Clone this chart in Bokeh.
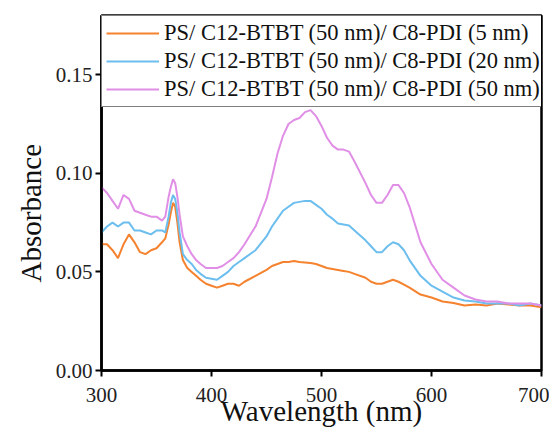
from bokeh.plotting import figure
from bokeh.models import Range1d, FixedTicker, PrintfTickFormatter, Title
from bokeh.embed import file_html
from bokeh.resources import INLINE

wavelength = [300, 305, 310, 315, 320, 325, 330, 335, 340, 345, 350, 355,
              358, 361, 363, 365, 367, 369, 371, 374, 378, 382, 386, 390, 395,
              400, 405, 410, 415, 420, 425, 430,
              440, 450, 455, 460, 465, 470, 475, 480, 485, 490, 495, 500, 505, 510, 515, 520, 525, 530,
              540, 545, 550, 555, 560, 565, 570, 575, 580,
              590, 600, 610, 620, 630, 640, 650, 660, 670, 680, 690, 700]

abs_5nm = [0.064, 0.064, 0.061, 0.057, 0.064, 0.069, 0.065, 0.060, 0.059, 0.061, 0.062, 0.065,
           0.067, 0.074, 0.080, 0.085, 0.083, 0.075, 0.065, 0.056, 0.052, 0.050, 0.048, 0.046, 0.044,
           0.043, 0.042, 0.043, 0.044, 0.044, 0.043, 0.045,
           0.048, 0.051, 0.053, 0.054, 0.055, 0.055, 0.0555, 0.055, 0.0548, 0.0545, 0.054, 0.053, 0.052, 0.0515, 0.051, 0.0505, 0.050, 0.049,
           0.047, 0.045, 0.044, 0.044, 0.045, 0.046, 0.045, 0.0435, 0.042,
           0.0385, 0.037, 0.035, 0.0342, 0.033, 0.0335, 0.033, 0.034, 0.0335, 0.033, 0.033, 0.032]

abs_20nm = [0.070, 0.073, 0.075, 0.073, 0.075, 0.075, 0.071, 0.071, 0.070, 0.069, 0.071, 0.071,
            0.070, 0.078, 0.085, 0.089, 0.087, 0.080, 0.070, 0.059, 0.056, 0.054, 0.051, 0.049, 0.047,
            0.0465, 0.046, 0.048, 0.050, 0.053, 0.055, 0.057,
            0.061, 0.068, 0.073, 0.077, 0.081, 0.083, 0.085, 0.0855, 0.086, 0.086, 0.084, 0.082, 0.079, 0.077, 0.0745, 0.074, 0.0735, 0.071,
            0.066, 0.063, 0.060, 0.060, 0.063, 0.065, 0.064, 0.061, 0.056,
            0.048, 0.043, 0.040, 0.037, 0.0355, 0.035, 0.034, 0.034, 0.034, 0.033, 0.034, 0.033]

abs_50nm = [0.093, 0.090, 0.086, 0.082, 0.089, 0.087, 0.081, 0.080, 0.079, 0.078, 0.078, 0.076,
            0.078, 0.088, 0.093, 0.097, 0.095, 0.088, 0.079, 0.068, 0.063, 0.059, 0.056, 0.054, 0.052,
            0.052, 0.052, 0.053, 0.055, 0.057, 0.060, 0.064,
            0.073, 0.087, 0.098, 0.110, 0.119, 0.125, 0.127, 0.128, 0.131, 0.132, 0.129, 0.124, 0.118, 0.114, 0.112, 0.112, 0.111, 0.106,
            0.095, 0.089, 0.085, 0.085, 0.089, 0.094, 0.094, 0.090, 0.083,
            0.065, 0.054, 0.046, 0.042, 0.038, 0.036, 0.035, 0.035, 0.034, 0.034, 0.034, 0.033]

series_labels = ["PS/ C12-BTBT (50 nm)/ C8-PDI (5 nm)",
                 "PS/ C12-BTBT (50 nm)/ C8-PDI (20 nm)",
                 "PS/ C12-BTBT (50 nm)/ C8-PDI (50 nm)"]
series_colors = ["#F5822E", "#6CBEEE", "#E08EE6"]

x_ticks = [300, 400, 500, 600, 700]
y_ticks = [0.0, 0.05, 0.10, 0.15]

FONT = "Liberation Serif"

p = figure(width=549, height=434, output_backend="svg", toolbar_location=None,
           x_range=Range1d(300, 700), y_range=Range1d(0, 0.18),
           min_border_left=101, min_border_right=8, min_border_top=15, min_border_bottom=64)

for ys, lab, col in zip([abs_5nm, abs_20nm, abs_50nm], series_labels, series_colors):
    p.line(wavelength, ys, line_color=col, line_width=2, legend_label=lab)

p.grid.visible = False
p.outline_line_color = "black"
p.outline_line_width = 2.5
p.outline_line_alpha = 1.0
p.background_fill_color = "white"
p.border_fill_color = "white"

for ax in (p.xaxis[0], p.yaxis[0]):
    ax.axis_line_width = 2.5
    ax.axis_line_color = "black"
    ax.major_tick_line_width = 2
    ax.major_tick_line_color = "black"
    ax.major_tick_out = 6
    ax.major_tick_in = 0
    ax.minor_tick_line_color = None
    ax.major_label_text_font = FONT
    ax.major_label_text_font_size = "21px"
    ax.major_label_text_color = "#222222"
    ax.axis_label_text_font = FONT
    ax.axis_label_text_font_size = "29px"
    ax.axis_label_text_font_style = "normal"
    ax.axis_label_text_color = "#111111"

p.xaxis.ticker = FixedTicker(ticks=x_ticks)
p.yaxis.ticker = FixedTicker(ticks=y_ticks)
p.yaxis.formatter = PrintfTickFormatter(format="%.2f")
p.xaxis.axis_label = "Wavelength (nm)"
p.xaxis.major_label_standoff = 11
p.yaxis.major_label_standoff = 3
p.xaxis.axis_label_standoff = -10

ytitle = Title(text="Absorbance", align="left", offset=88, standoff=11,
               text_font=FONT, text_font_size="29px", text_font_style="normal",
               text_color="#111111")
p.add_layout(ytitle, "left")

lg = p.legend[0]
lg.location = "top_left"
lg.margin = 0
lg.padding = 4
lg.spacing = 2
lg.glyph_width = 53
lg.glyph_height = 26
lg.label_height = 26
lg.label_standoff = 5
lg.label_text_font = FONT
lg.label_text_font_size = "22.5px"
lg.label_text_color = "#111111"
lg.border_line_color = "black"
lg.border_line_width = 1.5
lg.background_fill_alpha = 1.0

open("out.html", "w").write(file_html(p, INLINE))
